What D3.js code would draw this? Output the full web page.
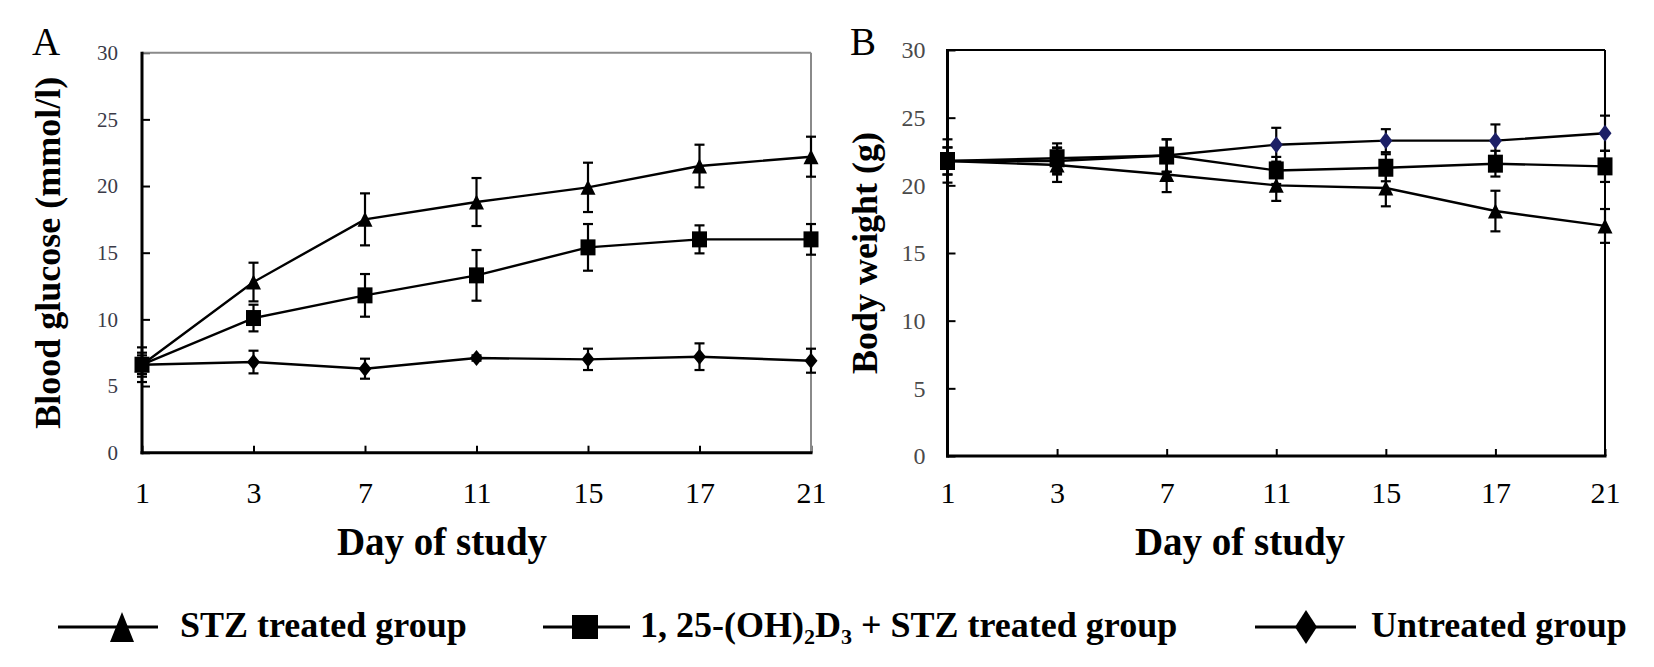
<!DOCTYPE html>
<html>
<head>
<meta charset="utf-8">
<script src="https://cdn.jsdelivr.net/npm/d3@7"></script>
<style>
    body { margin: 0; background: #fff; }
    svg text { font-family: "Liberation Serif", "Times New Roman", serif; }
</style>
</head>
<body>
<div id="chart"></div>
<script>
// 數據
const days = ["1", "3", "7", "11", "15", "17", "21"];
const yTicks = [0, 5, 10, 15, 20, 25, 30];

// 血糖 (mmol/l)
const glucoseSTZ = [6.6, 12.8, 17.5, 18.8, 19.9, 21.5, 22.2];
const glucoseSTZErr = [1.3, 1.45, 1.95, 1.8, 1.85, 1.6, 1.5];
const glucoseVD = [6.6, 10.1, 11.8, 13.3, 15.4, 16.0, 16.0];
const glucoseVDErr = [0.9, 1.0, 1.6, 1.9, 1.75, 1.05, 1.15];
const glucoseCtrl = [6.6, 6.8, 6.3, 7.1, 7.0, 7.2, 6.9];
const glucoseCtrlErr = [0.7, 0.85, 0.75, 0.2, 0.8, 1.0, 0.9];

// 體重 (g)
const weightSTZ = [21.8, 21.5, 20.8, 20.0, 19.8, 18.1, 17.0];
const weightSTZErr = [1.6, 1.25, 1.3, 1.15, 1.35, 1.5, 1.25];
const weightVD = [21.8, 22.0, 22.2, 21.1, 21.3, 21.6, 21.4];
const weightVDErr = [1.0, 1.1, 1.2, 1.0, 1.0, 0.95, 1.15];
const weightCtrl = [21.8, 21.8, 22.2, 23.0, 23.3, 23.3, 23.85];
const weightCtrlErr = [1.0, 1.0, 1.2, 1.25, 0.85, 1.2, 1.3];

const legendLabels = ["STZ treated group", "1, 25-(OH)2D3 + STZ treated group", "Untreated group"];

const svg = d3.select("#chart").append("svg")
    .attr("width", 1654)
    .attr("height", 667);

// 標記形狀
function marker(sel, shape, cx, cy, w, h, fill) {
    let pts;
    if (shape === "triangle") {
        pts = [[cx, cy - h / 2], [cx + w / 2, cy + h / 2], [cx - w / 2, cy + h / 2]];
    } else if (shape === "square") {
        pts = [[cx - w / 2, cy - h / 2], [cx + w / 2, cy - h / 2], [cx + w / 2, cy + h / 2], [cx - w / 2, cy + h / 2]];
    } else {
        pts = [[cx, cy - h / 2], [cx + w / 2, cy], [cx, cy + h / 2], [cx - w / 2, cy]];
    }
    sel.append("polygon")
        .attr("points", pts.map(p => p.join(",")).join(" "))
        .attr("fill", fill);
}

function drawPanel(o) {
    const x = d3.scalePoint().domain(days).range([o.left, o.right]);
    const y = d3.scaleLinear().domain([0, 30]).range([o.bottom, o.top]);
    const g = svg.append("g");

    // y 軸
    const yAxis = g.append("g")
        .attr("transform", `translate(${o.left},0)`)
        .call(d3.axisLeft(y).tickValues(yTicks).tickSize(-8).tickPadding(o.yPad));
    yAxis.select(".domain").remove();
    yAxis.selectAll(".tick line").attr("stroke", "#000").attr("stroke-width", 2);
    yAxis.selectAll(".tick text")
        .attr("font-family", o.yFont)
        .attr("font-size", o.yFontSize)
        .attr("fill", o.yColor);

    // x 軸
    const xAxis = g.append("g")
        .attr("transform", `translate(0,${o.bottom})`)
        .call(d3.axisBottom(x).tickSize(-7).tickPadding(0));
    xAxis.select(".domain").remove();
    xAxis.selectAll(".tick line").attr("stroke", "#000").attr("stroke-width", 2);
    xAxis.selectAll(".tick text")
        .attr("y", 503 - o.bottom)
        .attr("dy", 0)
        .attr("font-size", 30)
        .attr("fill", "#000");

    // 邊框
    g.append("line").attr("x1", o.left).attr("x2", o.right).attr("y1", o.top).attr("y2", o.top)
        .attr("stroke", o.frameColor).attr("stroke-width", 2);
    g.append("line").attr("x1", o.right).attr("x2", o.right).attr("y1", o.top).attr("y2", o.bottom)
        .attr("stroke", o.frameColor).attr("stroke-width", 2);
    g.append("line").attr("x1", o.left).attr("x2", o.left).attr("y1", o.top - 1).attr("y2", o.bottom + 1.5)
        .attr("stroke", "#000").attr("stroke-width", 3);
    g.append("line").attr("x1", o.left - 1.5).attr("x2", o.right + 1.5).attr("y1", o.bottom).attr("y2", o.bottom)
        .attr("stroke", "#000").attr("stroke-width", 3);

    const line = d3.line()
        .x((d, i) => x(days[i]))
        .y(d => y(d));

    // 先畫線，再畫誤差線和標記
    o.series.forEach(s => {
        g.append("path")
            .datum(s.values)
            .attr("d", line)
            .attr("fill", "none")
            .attr("stroke", "#000")
            .attr("stroke-width", 2.4);
    });
    o.series.forEach(s => {
        s.values.forEach((v, i) => {
            const cx = x(days[i]);
            const y1 = y(v + s.err[i]);
            const y2 = y(v - s.err[i]);
            g.append("line").attr("x1", cx).attr("x2", cx).attr("y1", y1).attr("y2", y2)
                .attr("stroke", "#000").attr("stroke-width", 2.2);
            [y1, y2].forEach(yy => {
                g.append("line").attr("x1", cx - 5).attr("x2", cx + 5).attr("y1", yy).attr("y2", yy)
                    .attr("stroke", "#000").attr("stroke-width", 2.2);
            });
        });
    });
    o.series.forEach(s => {
        s.values.forEach((v, i) => {
            marker(g, s.shape, x(days[i]), y(v), s.w, s.h, s.fill);
        });
    });

    // 軸標題
    g.append("text")
        .attr("transform", `translate(${o.yTitleX},${(o.top + o.bottom) / 2}) rotate(-90)`)
        .attr("text-anchor", "middle")
        .attr("font-size", 36)
        .attr("font-weight", "bold")
        .text(o.yTitle);
    g.append("text")
        .attr("x", o.xTitleX)
        .attr("y", 555)
        .attr("text-anchor", "middle")
        .attr("font-size", 39)
        .attr("font-weight", "bold")
        .text("Day of study");

    // 面板字母
    g.append("text")
        .attr("x", o.letterX)
        .attr("y", 55)
        .attr("font-size", 39)
        .text(o.letter);
}

drawPanel({
    letter: "A", letterX: 32,
    left: 142, right: 811, top: 52.7, bottom: 452.7,
    frameColor: "#8a8a8a",
    yPad: 24, yFont: "Liberation Sans, Arial, sans-serif", yFontSize: 21, yColor: "#3a3a48",
    yTitle: "Blood glucose (mmol/l)", yTitleX: 60,
    xTitleX: 442,
    series: [
        { values: glucoseCtrl, err: glucoseCtrlErr, shape: "diamond", w: 13, h: 16, fill: "#000" },
        { values: glucoseSTZ, err: glucoseSTZErr, shape: "triangle", w: 15, h: 15, fill: "#000" },
        { values: glucoseVD, err: glucoseVDErr, shape: "square", w: 15, h: 16, fill: "#000" }
    ]
});

drawPanel({
    letter: "B", letterX: 850,
    left: 947.5, right: 1605, top: 50, bottom: 456,
    frameColor: "#000",
    yPad: 22, yFont: "Liberation Serif, serif", yFontSize: 24, yColor: "#4a4a4a",
    yTitle: "Body weight (g)", yTitleX: 877,
    xTitleX: 1240,
    series: [
        { values: weightCtrl, err: weightCtrlErr, shape: "diamond", w: 13, h: 17, fill: "#1c1f66" },
        { values: weightSTZ, err: weightSTZErr, shape: "triangle", w: 15, h: 15, fill: "#000" },
        { values: weightVD, err: weightVDErr, shape: "square", w: 15, h: 18, fill: "#000" }
    ]
});

// 圖例
const legend = svg.append("g");
const legendItems = [
    { shape: "triangle", x1: 58, x2: 158, mx: 122, w: 24, h: 30, tx: 180 },
    { shape: "square", x1: 543, x2: 630, mx: 585, w: 26, h: 24, tx: 640 },
    { shape: "diamond", x1: 1255, x2: 1356, mx: 1306, w: 22, h: 34, tx: 1371 }
];
legendItems.forEach((item, i) => {
    legend.append("line")
        .attr("x1", item.x1).attr("x2", item.x2)
        .attr("y1", 627).attr("y2", 627)
        .attr("stroke", "#000").attr("stroke-width", 3);
    marker(legend, item.shape, item.mx, 627, item.w, item.h, "#000");
    const t = legend.append("text")
        .attr("x", item.tx)
        .attr("y", 637)
        .attr("font-size", 36)
        .attr("font-weight", "bold");
    if (i === 1) {
        // 下標 2 與 3
        t.append("tspan").text("1, 25-(OH)");
        t.append("tspan").attr("font-size", 22).attr("dy", 7).text("2");
        t.append("tspan").attr("dy", -7).text("D");
        t.append("tspan").attr("font-size", 22).attr("dy", 7).text("3");
        t.append("tspan").attr("dy", -7).text(" + STZ treated group");
    } else {
        t.text(legendLabels[i]);
    }
});
</script>
</body>
</html>
